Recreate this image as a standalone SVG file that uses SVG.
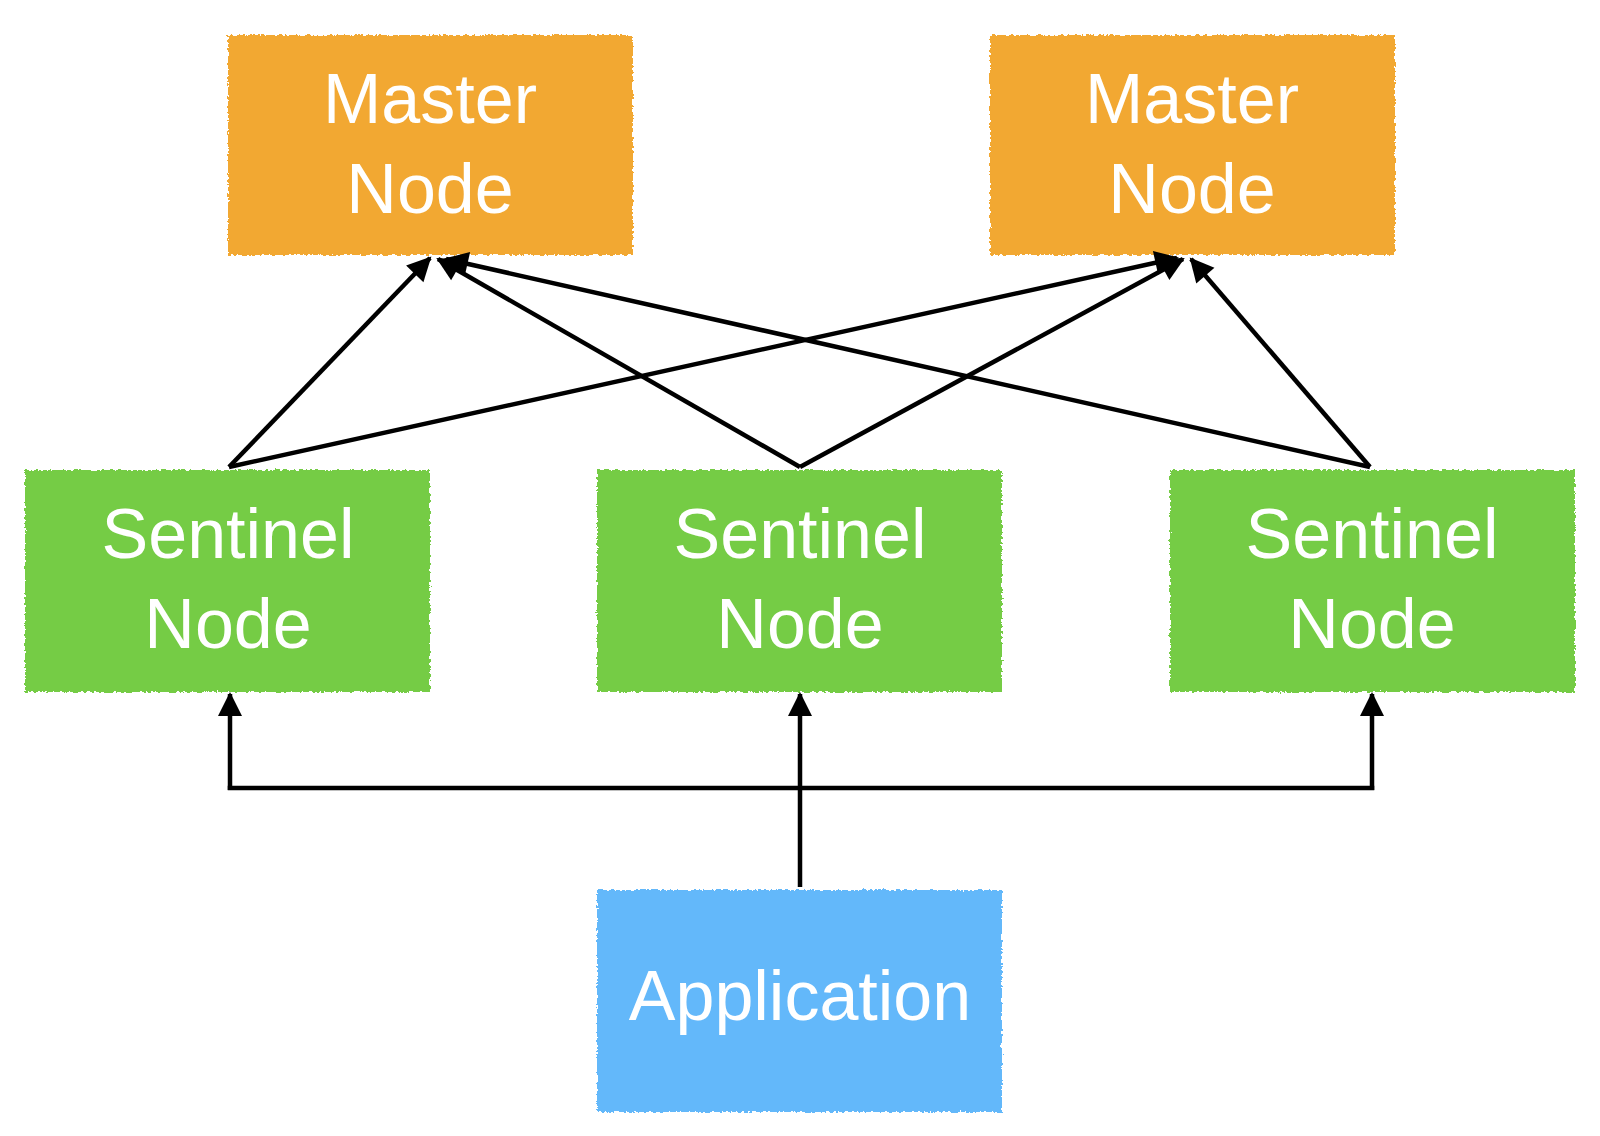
<svg xmlns="http://www.w3.org/2000/svg" width="1600" height="1136" viewBox="0 0 1600 1136">
  <style>
    .box { stroke: none; filter: url(#rough); }
    .master { fill: #F2A830; }
    .sentinel { fill: #74CC44; }
    .app { fill: #64B8FA; }
    .label { font-family: "Liberation Sans", Arial, sans-serif; font-size: 70px; fill: #FFFFFF; text-anchor: middle; }
    .conn { fill: none; stroke: #000000; stroke-width: 4.5; }
  </style>
  <defs>
    <filter id="rough" x="-2%" y="-2%" width="104%" height="104%">
      <feTurbulence type="fractalNoise" baseFrequency="0.35" numOctaves="2" seed="3" result="noise"/>
      <feDisplacementMap in="SourceGraphic" in2="noise" scale="5" xChannelSelector="R" yChannelSelector="G"/>
    </filter>
    <marker id="arrow" markerUnits="userSpaceOnUse" markerWidth="26" markerHeight="26" viewBox="0 0 26 26" refX="23" refY="13" orient="auto">
      <path d="M1,1 L25,13 L1,25 Z" fill="#000000"/>
    </marker>
  </defs>

  <rect width="1600" height="1136" fill="#FFFFFF"/>

  <g id="master-left">
    <rect class="box master" x="228" y="35" width="405" height="220"/>
    <text class="label" x="430" y="123">Master</text>
    <text class="label" x="430" y="213">Node</text>
  </g>
  <g id="master-right">
    <rect class="box master" x="990" y="35" width="405" height="220"/>
    <text class="label" x="1192" y="123">Master</text>
    <text class="label" x="1192" y="213">Node</text>
  </g>

  <g id="sentinel-left">
    <rect class="box sentinel" x="25" y="470" width="405" height="222"/>
    <text class="label" x="228" y="558">Sentinel</text>
    <text class="label" x="228" y="648">Node</text>
  </g>
  <g id="sentinel-middle">
    <rect class="box sentinel" x="597" y="470" width="405" height="222"/>
    <text class="label" x="800" y="558">Sentinel</text>
    <text class="label" x="800" y="648">Node</text>
  </g>
  <g id="sentinel-right">
    <rect class="box sentinel" x="1170" y="470" width="405" height="222"/>
    <text class="label" x="1372" y="558">Sentinel</text>
    <text class="label" x="1372" y="648">Node</text>
  </g>

  <g id="application">
    <rect class="box app" x="597" y="890" width="405" height="222"/>
    <text class="label" x="800" y="1020">Application</text>
  </g>

  <g id="connectors">
    <line class="conn" x1="229" y1="467" x2="430" y2="258" marker-end="url(#arrow)"/>
    <line class="conn" x1="800" y1="467" x2="438" y2="259" marker-end="url(#arrow)"/>
    <line class="conn" x1="1370" y1="467" x2="446" y2="259" marker-end="url(#arrow)"/>
    <line class="conn" x1="229" y1="467" x2="1177" y2="258" marker-end="url(#arrow)"/>
    <line class="conn" x1="800" y1="467" x2="1183" y2="259" marker-end="url(#arrow)"/>
    <line class="conn" x1="1370" y1="467" x2="1191" y2="259" marker-end="url(#arrow)"/>
    <line class="conn" x1="800" y1="887" x2="800" y2="694" marker-end="url(#arrow)"/>
    <line class="conn" x1="227.75" y1="788" x2="1374.25" y2="788"/>
    <line class="conn" x1="230" y1="790" x2="230" y2="694" marker-end="url(#arrow)"/>
    <line class="conn" x1="1372" y1="790" x2="1372" y2="694" marker-end="url(#arrow)"/>
  </g>
</svg>
